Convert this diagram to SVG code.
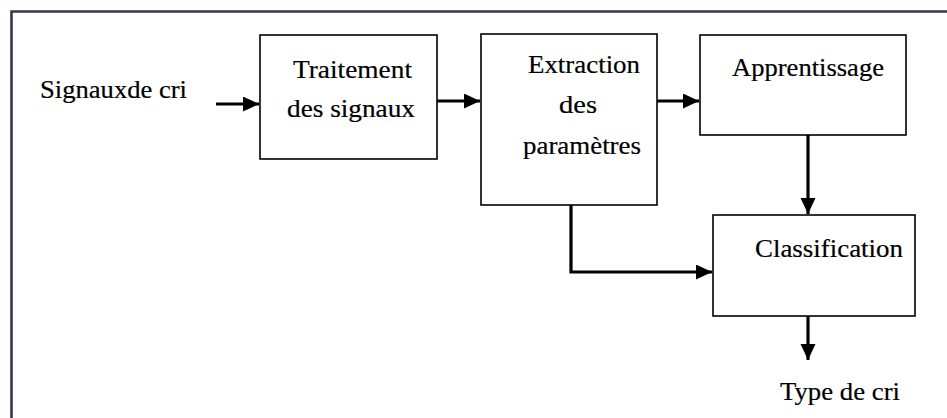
<svg xmlns="http://www.w3.org/2000/svg" width="947" height="418" viewBox="0 0 947 418">
<defs>
<marker id="ah" markerUnits="userSpaceOnUse" markerWidth="17" markerHeight="16" refX="16" refY="7.5" orient="auto">
<path d="M0,0 L16,7.5 L0,15 Z" fill="#000"/>
</marker>
<style>
.box{fill:#fff;stroke:#000;stroke-width:1.6}
.c{fill:none;stroke:#000;stroke-width:3.2}
.t{font-family:'Liberation Serif',serif;font-size:25.5px;fill:#000;stroke:#000;stroke-width:0.2}
</style>
</defs>
<rect width="947" height="418" fill="#fff"/>
<path d="M11.5,420 L11.5,11.5 L950,11.5" fill="none" stroke="#3f3151" stroke-width="2.6"/>
<g id="input"><text class="t" x="40" y="98" textLength="147" lengthAdjust="spacingAndGlyphs">Signauxde cri</text></g>
<g id="traitement">
<rect class="box" x="260" y="35" width="177" height="124"/>
<text class="t" x="293" y="78" textLength="119" lengthAdjust="spacingAndGlyphs">Traitement</text>
<text class="t" x="287" y="117" textLength="128" lengthAdjust="spacingAndGlyphs">des signaux</text>
</g>
<g id="extraction">
<rect class="box" x="481" y="34" width="176" height="171"/>
<text class="t" x="528" y="73" textLength="112" lengthAdjust="spacingAndGlyphs">Extraction</text>
<text class="t" x="559" y="113" textLength="38" lengthAdjust="spacingAndGlyphs">des</text>
<text class="t" x="523" y="154" textLength="118" lengthAdjust="spacingAndGlyphs">paramètres</text>
</g>
<g id="apprentissage">
<rect class="box" x="700" y="35" width="206" height="100"/>
<text class="t" x="732" y="76" textLength="152" lengthAdjust="spacingAndGlyphs">Apprentissage</text>
</g>
<g id="classification">
<rect class="box" x="713" y="215" width="202" height="101"/>
<text class="t" x="755" y="257" textLength="148" lengthAdjust="spacingAndGlyphs">Classification</text>
</g>
<g id="output"><text class="t" x="780" y="400" textLength="120" lengthAdjust="spacingAndGlyphs">Type de cri</text></g>
<g id="connectors">
<line class="c" x1="216" y1="104" x2="259" y2="104" marker-end="url(#ah)"/>
<line class="c" x1="437" y1="101" x2="480" y2="101" marker-end="url(#ah)"/>
<line class="c" x1="657" y1="101" x2="699" y2="101" marker-end="url(#ah)"/>
<line class="c" x1="808" y1="135" x2="808" y2="214" marker-end="url(#ah)"/>
<polyline class="c" points="571,205 571,272 712,272" marker-end="url(#ah)"/>
<line class="c" x1="808" y1="316" x2="808" y2="360" marker-end="url(#ah)"/>
</g>
</svg>
